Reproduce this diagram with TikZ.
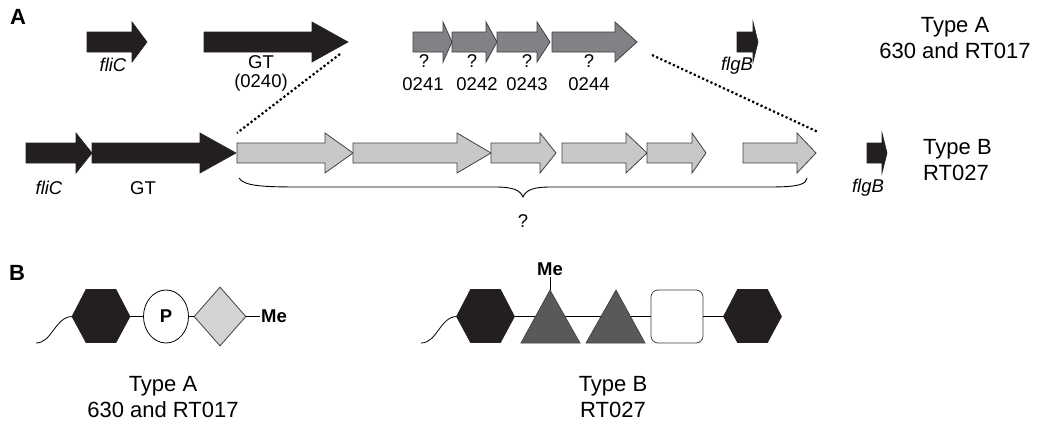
\documentclass[tikz,border=0pt]{standalone}
\usepackage{fontspec}
\setmainfont{Liberation Sans}
\usetikzlibrary{shapes.geometric}
\definecolor{blk}{HTML}{231F20}
\definecolor{dkg}{HTML}{808285}
\definecolor{ltg}{HTML}{C7C8CA}
\definecolor{edge}{HTML}{414042}
\definecolor{trig}{HTML}{58595B}
\definecolor{diag}{HTML}{D1D3D4}
% gene arrow: style, x start, x head, x tip, y centre, tip name
\newcommand{\genearrow}[6]{%
  \path[#1] (#2,#5-10) -- (#3,#5-10) -- (#3,#5-20) -- (#4,#5) -- (#3,#5+20) -- (#3,#5+10) -- (#2,#5+10) -- cycle;
  \coordinate (#6) at (#4,#5);}
% hexagon: name, cx, cy
\newcommand{\hexat}[3]{%
  \path[hexs] (#2-29,#3) -- (#2-15,#3-27) -- (#2+15,#3-27) -- (#2+29,#3) -- (#2+15,#3+26) -- (#2-15,#3+26) -- cycle;
  \coordinate (#1W) at (#2-29,#3);
  \coordinate (#1E) at (#2+29,#3);}
\begin{document}
\begin{tikzpicture}[x=1pt,y=-1pt,
  blackgene/.style={fill=blk,draw=blk,line width=0.6pt},
  darkgene/.style={fill=dkg,draw=edge,line width=0.8pt},
  lightgene/.style={fill=ltg,draw=edge,line width=0.8pt},
  hexs/.style={fill=blk,draw=blk,line width=0.6pt},
  tris/.style={fill=trig,draw=edge,line width=0.7pt},
  bond/.style={draw=black,line width=0.8pt},
  dots/.style={draw=black,line width=2.2pt,dash pattern=on 2.2pt off 2.4pt},
  small/.style={inner sep=0pt,font=\fontsize{18.5}{21}\selectfont},
  smallit/.style={inner sep=0pt,font=\fontsize{18.5}{21}\selectfont\itshape},
  typel/.style={inner sep=0pt,align=center,font=\fontsize{22}{25.5}\selectfont},
  panel/.style={inner sep=0pt,font=\fontsize{22}{24}\selectfont\bfseries},
  melbl/.style={inner sep=1pt,font=\fontsize{18.5}{20}\selectfont\bfseries}]
\useasboundingbox (0,0) rectangle (1038,423);

% ---------------- Panel A ----------------
\node[panel] (A) at (18,17) {A};

% top row (Type A)
\genearrow{blackgene}{87}{132}{147}{42}{fliCaT}
\genearrow{blackgene}{204}{312}{348}{42}{gtaT}
\genearrow{darkgene}{413}{443}{452}{42}{a241T}
\genearrow{darkgene}{452}{486}{497}{42}{a242T}
\genearrow{darkgene}{497}{537}{550}{42}{a243T}
\genearrow{darkgene}{552}{615}{637}{42}{a244T}
\genearrow{blackgene}{737}{753}{758}{42}{flgBaT}

\node[smallit] (fliCa) at (113,65) {fliC};
\node[small] (gta) at (261,62) {GT};
\node[small] (gtanum) at (261,83) {(0240)};
\node[small] (q241) at (424,61) {?};
\node[small] (q242) at (472,61) {?};
\node[small] (q243) at (527,61) {?};
\node[small] (q244) at (589,61) {?};
\node[small] (n241) at (423,84) {0241};
\node[small] (n242) at (477,84) {0242};
\node[small] (n243) at (527,84) {0243};
\node[small] (n244) at (589,84) {0244};
\node[smallit] (flgBa) at (737,66) {flgB};
\node[typel] (typeA) at (955,38) {Type A\\630 and RT017};

% bottom row (Type B)
\genearrow{blackgene}{26}{76}{92}{153}{fliCbT}
\genearrow{blackgene}{92}{200}{236}{153}{gtbT}
\genearrow{lightgene}{237}{325}{353}{153}{b1T}
\genearrow{lightgene}{353}{457}{491}{153}{b2T}
\genearrow{lightgene}{491}{540}{556}{153}{b3T}
\genearrow{lightgene}{562}{626}{647}{153}{b4T}
\genearrow{lightgene}{647}{692}{706}{153}{b5T}
\genearrow{lightgene}{743}{797}{816}{153}{b6T}
\genearrow{blackgene}{867}{882}{887}{153}{flgBbT}

\node[smallit] (fliCb) at (49,188) {fliC};
\node[small] (gtb) at (143,188) {GT};
\node[smallit] (flgBb) at (868,188) {flgB};
\node[typel,align=left,anchor=west] (typeB) at (923,160) {Type B\\RT027};

% dotted expansion lines
\coordinate (dLtop) at (340,54);
\coordinate (dLbot) at (237,133);
\coordinate (dRtop) at (652,55);
\coordinate (dRbot) at (818,132);
\draw[dots] (dLtop) -- (dLbot);
\draw[dots] (dRtop) -- (dRbot);

% brace
\coordinate (brL) at (239,178);
\coordinate (brM) at (523,197);
\coordinate (brR) at (807,178);
\draw[bond,line width=0.9pt] (brL) .. controls (244,186) and (262,187) .. (300,187)
  -- (495,187) .. controls (513,187) and (520,190) .. (brM)
  .. controls (526,190) and (533,187) .. (551,187)
  -- (770,187) .. controls (800,187) and (806,184) .. (brR);
\node[small] (qB) at (523,221) {?};

% ---------------- Panel B ----------------
\node[panel] (B) at (17,273) {B};

% Type A glycan
\hexat{hA}{101}{316.5}
\node[ellipse,draw=black,fill=white,line width=0.8pt,inner sep=0pt,
      minimum width=45pt,minimum height=53pt,
      font=\fontsize{18.5}{20}\selectfont\bfseries] (P) at (166,316.5) {P};
\node[diamond,draw=edge,fill=diag,line width=0.8pt,inner sep=0pt,
      minimum width=52pt,minimum height=59pt] (dm) at (220,316.5) {};
\node[melbl,anchor=west] (meA) at (260,316.5) {Me};
\coordinate (wA) at (36,343);
\draw[bond] (wA) .. controls (52,343) and (55,317) .. (hAW);
\draw[bond] (hAE) -- (P.west);
\draw[bond] (P.east) -- (dm.west);
\draw[bond] (dm.east) -- (meA.west);
\node[typel] (capA) at (163,397) {Type A\\630 and RT017};

% Type B glycan
\hexat{hB}{485.5}{316.5}
\hexat{hC}{752.5}{316.5}
\node[rectangle,rounded corners=7pt,draw=edge,fill=white,line width=0.8pt,
      minimum width=52pt,minimum height=53pt,inner sep=0pt] (sq) at (677,316.5) {};
\node[melbl,anchor=south] (meB) at (550,277) {Me};
\coordinate (wB) at (421,343);
\draw[bond] (wB) .. controls (437,343) and (440,317) .. (hBW);
\draw[bond] (hBE) -- (sq.west);
\draw[bond] (sq.east) -- (hCW);
\path[tris] (521,343) -- (550,290) -- (580,343) -- cycle;
\path[tris] (586,343) -- (616,290) -- (645,343) -- cycle;
\coordinate (t1apex) at (550,290);
\draw[bond] (t1apex) -- (meB.south);
\node[typel] (capB) at (613,397) {Type B\\RT027};
\end{tikzpicture}
\end{document}
